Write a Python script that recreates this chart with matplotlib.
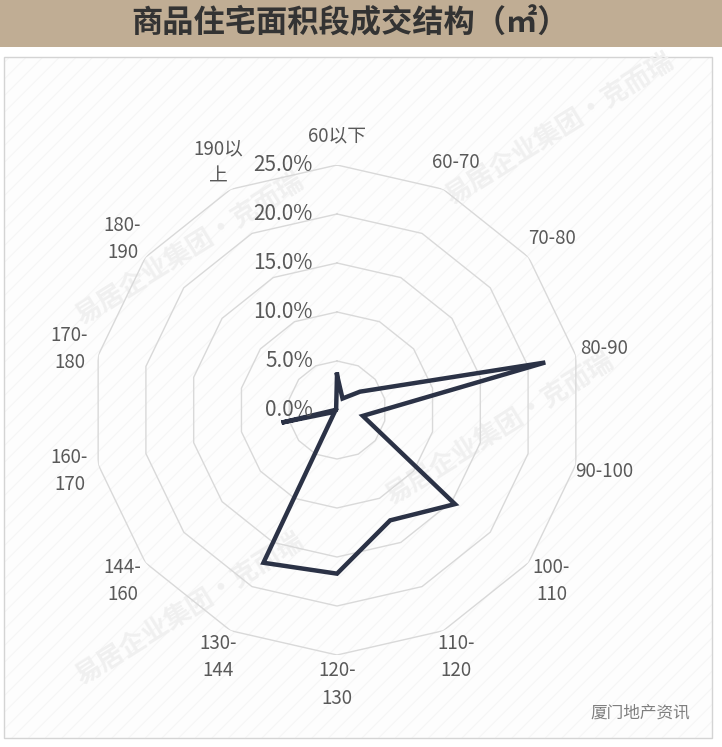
import numpy as np
import matplotlib
matplotlib.use("Agg")
import matplotlib.pyplot as plt
from matplotlib.patches import Rectangle
from matplotlib.transforms import offset_copy

plt.rcParams['font.family'] = ['Noto Sans CJK SC', 'DejaVu Sans']

# -------------------------
# Data
# -------------------------
categories = ['60以下', '60-70', '70-80', '80-90', '90-100', '100-\n110', '110-\n120',
              '120-\n130', '130-\n144', '144-\n160', '160-\n170', '170-\n180',
              '180-\n190', '190以\n上']
share = [3.6, 1.3, 3.0, 21.8, 2.7, 15.4, 12.5, 16.7, 17.3, 0.3, 5.8, 0.1, 0.1, 0.2]
rings = [0, 5, 10, 15, 20, 25]
title = '商品住宅面积段成交结构（㎡）'

W, H = 722, 747
fig = plt.figure(figsize=(W / 100, H / 100), dpi=100)
fig.patch.set_facecolor('white')


def fx(px):
    return px / W


def fy(py):
    return 1 - py / H


# -------------------------
# Background: title bar, stripes, frame, watermarks
# -------------------------
fig.add_artist(Rectangle((0, fy(47)), 1, 47 / H, transform=fig.transFigure,
                         facecolor='#c0ad94', edgecolor='none', zorder=-3))
fig.text(fx(350), fy(23), title, ha='center', va='center', fontsize=22.5,
         fontweight='bold', color='#333333')

plt.rcParams['hatch.color'] = '#f5f5f5'
plt.rcParams['hatch.linewidth'] = 0.8
fig.add_artist(Rectangle((fx(4), fy(738)), fx(712) - fx(4), (738 - 57) / H,
                         transform=fig.transFigure, facecolor='#fdfdfd',
                         edgecolor='#f5f5f5', hatch='//', lw=0, zorder=-3))
fig.add_artist(Rectangle((fx(4), fy(738)), fx(712) - fx(4), (738 - 57) / H,
                         transform=fig.transFigure, facecolor='none',
                         edgecolor='#d4d4d4', lw=1, zorder=-2))

wm = '易居企业集团·克而瑞'
for x, y in [(190, 250), (500, 430), (190, 610), (560, 130)]:
    fig.text(fx(x), fy(y), wm, ha='center', va='center', rotation=32,
             fontsize=19, color='#f0f0f0', fontweight='bold', zorder=-1)

fig.text(fx(640), fy(713), '厦门地产资讯', ha='center', va='center',
         fontsize=12, color='#7f7f7f')

# -------------------------
# Radar
# -------------------------
cx, cy, R = 337, 410, 245
ax = fig.add_axes([fx(cx - R), fy(cy + R), 2 * R / W, 2 * R / H], projection='polar')
ax.set_theta_zero_location('N')
ax.set_theta_direction(-1)
ax.set_ylim(0, 25)
ax.patch.set_alpha(0)
ax.spines['polar'].set_visible(False)
ax.set_xticks([])
ax.set_yticks([])
ax.grid(False)

n = len(categories)
theta = np.linspace(0, 2 * np.pi, n, endpoint=False)
theta_c = np.append(theta, theta[0])

for v in rings[1:]:
    ax.plot(theta_c, [v] * (n + 1), color='#d9d9d9', lw=1, zorder=1)

vals = np.append(share, share[0])
ax.plot(theta_c, vals, color='#2b3246', lw=3.2, solid_joinstyle='miter', zorder=3)

tick_tr = offset_copy(ax.transData, fig=fig, x=-24, y=0, units='dots')
for v in rings:
    ax.text(0, v, f'{v:.1f}%', transform=tick_tr, ha='right', va='center',
            fontsize=15, color='#595959', zorder=4)

for t, lab in zip(theta, categories):
    ax.text(t, 28.0, lab, ha='center', va='center', multialignment='center',
            fontsize=13.5, color='#595959', linespacing=1.4, clip_on=False)

fig.savefig('out.png', dpi=100, facecolor=fig.get_facecolor())
